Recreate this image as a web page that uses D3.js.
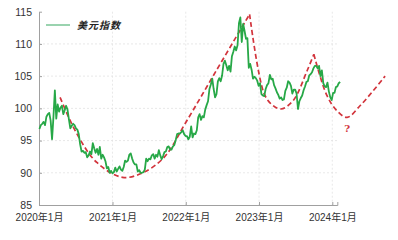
<!DOCTYPE html>
<html>
<head>
<meta charset="utf-8">
<script src="https://cdn.jsdelivr.net/npm/d3@7"></script>
<style>
  body { margin: 0; background: #fff; }
  svg { display: block; }
</style>
</head>
<body>
<div id="container"></div>
<script>
// weekly closes (Fridays) from 2020-01-03
const dxy2020 = [96.8, 97.4, 97.6, 97.9, 97.4, 98.7, 99.1, 99.3, 98.1, 95.2, 98.7, 102.8, 98.4,
  100.6, 99.5, 100.1, 100.4, 99.1, 99.7, 100.4, 99.8, 98.3, 96.9, 97.3, 97.6, 97.4,
  96.9, 96.7, 96.0, 94.4, 93.3, 93.4, 93.1, 93.2, 92.4, 92.7, 93.3, 92.9, 94.6,
  93.8, 93.1, 93.7, 92.8, 94.0, 92.2, 92.8, 92.4, 91.8, 90.7, 90.9, 90.0, 90.3]
const dxy2021 = [89.9, 90.1, 90.8, 90.2, 90.6, 91.0, 90.5, 90.3, 90.9, 91.9, 91.7, 91.9, 92.8,
  93.0, 92.2, 91.6, 91.3, 91.3, 90.2, 90.4, 90.0, 90.0, 90.1, 90.5, 92.2, 91.8,
  92.2, 92.1, 92.7, 92.9, 92.2, 92.8, 92.5, 93.5, 92.7, 92.1, 92.6, 93.2, 93.3,
  94.0, 94.1, 93.6, 93.6, 94.1, 94.3, 95.1, 96.0, 96.1, 96.1, 96.3, 96.6, 96.0, 95.7]
const dxy2022 = [95.7, 95.2, 95.6, 97.2, 95.5, 96.1, 96.0, 96.6, 98.6, 99.1, 98.2, 98.8,
  98.6, 99.8, 100.5, 101.1, 103.0, 103.7, 104.6, 103.0, 101.7, 102.2, 104.2, 104.7, 104.2,
  105.1, 106.9, 107.4, 106.7, 105.9, 106.6, 105.7, 108.1, 108.8, 109.6, 109.0, 109.8, 113.2, 114.1,
  110.3, 113.1, 112.0, 110.8, 110.9, 106.3, 106.9, 106.0, 104.6, 104.9, 104.7, 104.3, 103.5]
const dxy2023 = [103.9, 102.2, 102.0, 101.9, 103.0, 103.6, 103.9, 105.2, 104.5, 104.6, 103.6, 103.1, 102.5,
  102.1, 101.5, 101.7, 101.3, 101.4, 102.7, 103.2, 104.2, 104.0, 103.5, 102.3, 102.9, 102.9,
  102.3, 99.9, 101.1, 101.6, 102.0, 102.8, 103.4, 104.1, 104.2, 105.1, 105.3, 105.6, 106.2,
  106.6, 106.6, 106.2, 106.6, 105.0, 105.9, 103.9, 103.4, 103.3, 104.0, 102.6, 101.7, 101.3]
const dxy2024 = [102.4, 102.4, 103.3, 103.4, 103.9, 104.1]

// hand drawn trend (red dashes)
const trendA = [["2020-04-15", 101.7], ["2020-07-05", 96.2], ["2020-10-15", 91.6], ["2021-02-20", 89.3],
  ["2021-06-01", 90.0], ["2021-09-15", 92.4], ["2022-01-01", 97.8], ["2022-06-01", 105.8], ["2022-11-15", 114.6]]
const trendB = [["2022-11-15", 114.6], ["2023-01-25", 102.4], ["2023-03-05", 100.6], ["2023-04-20", 99.9],
  ["2023-06-20", 101.2], ["2023-08-28", 105.8], ["2023-10-01", 108.4]]
const trendC = [["2023-10-01", 108.4], ["2023-12-05", 102.0], ["2024-01-25", 99.6], ["2024-03-15", 98.6],
  ["2024-05-18", 100.4], ["2024-07-22", 102.7], ["2024-09-20", 105.0]]

const yTicks = [85, 90, 95, 100, 105, 110, 115]
const xTicks = ["2020-01-01", "2021-01-01", "2022-01-01", "2023-01-01", "2024-01-01"]
const seriesName = "美元指数"

const width = 398
const height = 240
const green = "#27a847"
const red = "#d2343c"
const font = "'Liberation Sans', Arial, sans-serif"

const parse = d3.timeParse("%Y-%m-%d")
const start = parse("2020-01-03")
const values = [].concat(dxy2020, dxy2021, dxy2022, dxy2023, dxy2024)
const data = values.map((v, i) => ({ date: d3.timeDay.offset(start, i * 7), value: v }))

const x = d3.scaleTime()
  .domain([parse("2020-01-01"), parse("2024-01-01")])
  .range([39, 332.3])
const y = d3.scaleLinear().domain([85, 115]).range([205, 11.7])
const axisEnd = x(parse("2024-01-26"))

const svg = d3.select("#container").append("svg")
  .attr("width", width).attr("height", height)
  .style("background", "#fff")

// grid
svg.append("g").selectAll("line")
  .data(yTicks.slice(1, -1))
  .enter().append("line")
  .attr("x1", 39).attr("x2", axisEnd)
  .attr("y1", d => y(d)).attr("y2", d => y(d))
  .attr("stroke", "#e2e2e2").attr("stroke-width", 0.8)
  .attr("stroke-dasharray", "2,2")
svg.append("g").selectAll("line")
  .data(xTicks.slice(1))
  .enter().append("line")
  .attr("x1", d => x(parse(d))).attr("x2", d => x(parse(d)))
  .attr("y1", y(115)).attr("y2", y(85))
  .attr("stroke", "#e2e2e2").attr("stroke-width", 0.8)
  .attr("stroke-dasharray", "2,2")

// axes
const yAxis = svg.append("g")
  .attr("transform", "translate(39,0)")
  .call(d3.axisLeft(y).tickValues(yTicks).tickSize(-3).tickSizeOuter(0).tickPadding(7))
const xAxis = svg.append("g")
  .attr("transform", `translate(0,${y(85)})`)
  .call(d3.axisBottom(x.copy().domain([parse("2020-01-01"), parse("2024-01-26")]).range([39, axisEnd]))
    .tickValues(xTicks.map(parse)).tickSize(-3).tickSizeOuter(-3).tickPadding(9)
    .tickFormat(d3.timeFormat("%Y年%-m月")))
svg.selectAll(".domain, .tick line").attr("stroke", "#a0a0a0").attr("stroke-width", 1)
svg.selectAll(".tick text")
  .attr("fill", "#333").style("font-size", "10.5px").style("font-family", font)
xAxis.selectAll(".tick text")
  .style("font-size", "10px")
  .style("font-family", "'Liberation Sans', 'Noto Sans CJK SC', sans-serif")

// trend lines
const trendLine = d3.line()
  .x(d => x(parse(d[0])))
  .y(d => y(d[1]))
  .curve(d3.curveCatmullRom)
;[trendA, trendB, trendC].forEach(t => {
  svg.append("path")
    .attr("d", trendLine(t))
    .attr("fill", "none")
    .attr("stroke", red)
    .attr("stroke-width", 1.7)
    .attr("stroke-dasharray", "5,3")
})

// dollar index
svg.append("path")
  .datum(data)
  .attr("d", d3.line().x(d => x(d.date)).y(d => y(d.value)))
  .attr("fill", "none")
  .attr("stroke", green)
  .attr("stroke-width", 1.8)
  .attr("stroke-linejoin", "round")

svg.append("text")
  .attr("x", x(parse("2024-03-15")))
  .attr("y", y(98.6) + 15)
  .attr("text-anchor", "middle")
  .attr("fill", red)
  .style("font-size", "10px")
  .style("font-family", "'DejaVu Serif', serif")
  .style("font-weight", "bold")
  .text("?")

// legend
svg.append("line")
  .attr("x1", 46).attr("x2", 70).attr("y1", 25).attr("y2", 25)
  .attr("stroke", "#79c595").attr("stroke-width", 1.5)
svg.append("text")
  .attr("x", 77).attr("y", 28.5)
  .attr("fill", "#222")
  .style("font-size", "10px")
  .style("font-weight", "bold")
  .style("font-style", "italic")
  .style("letter-spacing", "1px")
  .style("font-family", "'Noto Sans CJK SC', sans-serif")
  .text(seriesName)
</script>
</body>
</html>
